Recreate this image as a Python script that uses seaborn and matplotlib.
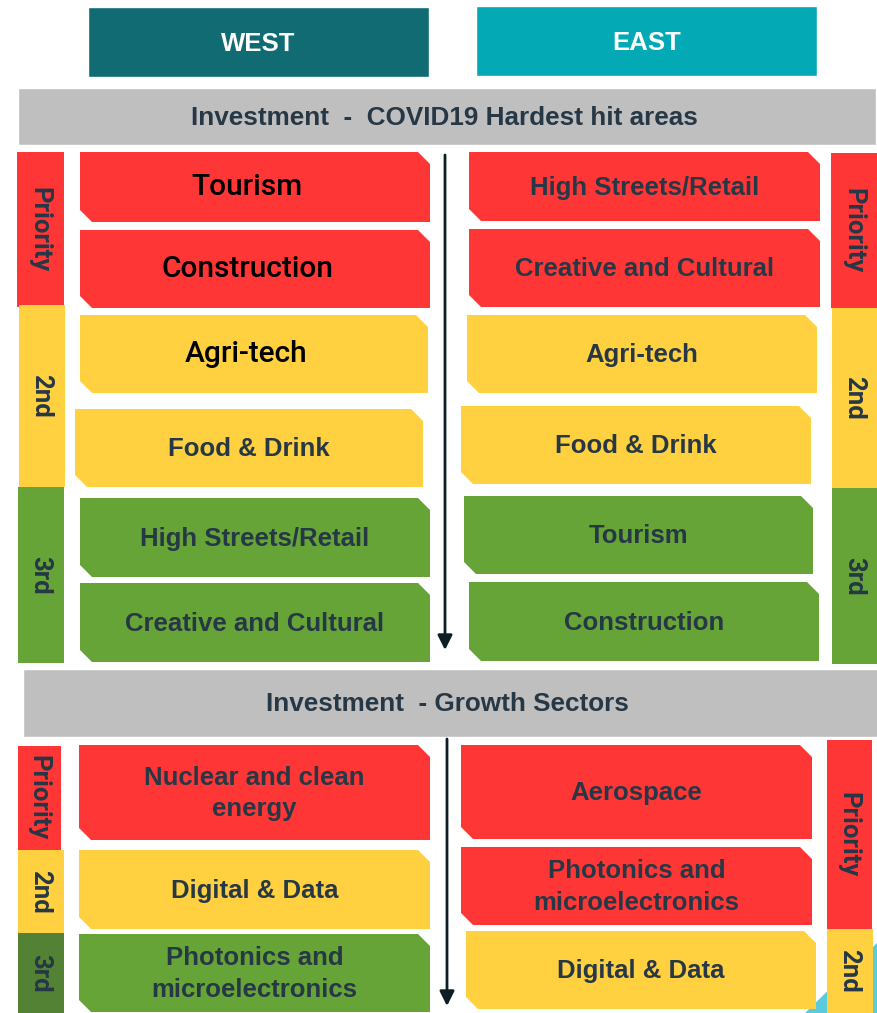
import matplotlib
matplotlib.use("Agg")
import matplotlib.pyplot as plt
from matplotlib.patches import Polygon, Rectangle
import seaborn as sns

# ---- data ----
regions = ["WEST", "EAST"]
section_titles = ["Investment  -  COVID19 Hardest hit areas", "Investment  - Growth Sectors"]

west_covid = ["Tourism", "Construction", "Agri-tech", "Food & Drink",
              "High Streets/Retail", "Creative and Cultural"]
west_covid_tier = ["Priority", "Priority", "2nd", "2nd", "3rd", "3rd"]
east_covid = ["High Streets/Retail", "Creative and Cultural", "Agri-tech", "Food & Drink",
              "Tourism", "Construction"]
east_covid_tier = ["Priority", "Priority", "2nd", "2nd", "3rd", "3rd"]

west_growth = ["Nuclear and clean\nenergy", "Digital & Data", "Photonics and\nmicroelectronics"]
west_growth_tier = ["Priority", "2nd", "3rd"]
east_growth = ["Aerospace", "Photonics and\nmicroelectronics", "Digital & Data"]
east_growth_tier = ["Priority", "Priority", "2nd"]

# ---- layout (pixels, y down) ----
W, H = 878, 1013
region_boxes = [(88, 7, 429, 77), (476, 6, 817, 76)]
band_boxes = [(18, 88, 876, 145), (23, 669, 878, 737)]

west_covid_boxes = [(80, 152, 430, 222), (80, 230, 430, 308), (80, 315, 428, 393),
                    (75, 409, 423, 487), (80, 498, 430, 577), (80, 583, 430, 662)]
east_covid_boxes = [(469, 152, 820, 221), (469, 229, 820, 307), (467, 315, 817, 393),
                    (461, 406, 811, 484), (464, 496, 813, 574), (469, 582, 819, 661)]
west_growth_boxes = [(79, 745, 430, 840), (79, 850, 430, 929), (79, 934, 430, 1012)]
east_growth_boxes = [(461, 745, 812, 839), (461, 847, 812, 925), (466, 931, 816, 1009)]

# side tier bars: (tier, x0, y0, x1, y1)
side_bars = [
    ("Priority", 17, 152, 64, 307), ("2nd", 19, 305, 65, 487), ("3rd", 18, 487, 64, 663),
    ("Priority", 831, 153, 877, 308), ("2nd", 832, 308, 878, 488), ("3rd", 832, 488, 878, 664),
    ("Priority", 18, 746, 61, 850), ("2nd", 18, 850, 64, 933), ("3rd*", 18, 933, 64, 1013),
    ("Priority", 827, 740, 872, 929), ("2nd", 827, 929, 873, 1013),
]
arrows = [(445, 155, 650), (447, 739, 1006)]

tier_colors = {"Priority": "#FF3636", "2nd": "#FFD03F", "3rd": "#67A437", "3rd*": "#548235"}
region_colors = ["#116B73", "#04A9B6"]
band_color = "#BFBFBF"
ink = "#263746"

sns.set_theme(style="white")
plt.rcParams["font.family"] = ["Liberation Sans", "DejaVu Sans"]

fig = plt.figure(figsize=(W / 100, H / 100), dpi=100)
ax = fig.add_axes([0, 0, 1, 1])
ax.set_xlim(0, W)
ax.set_ylim(H, 0)
ax.axis("off")


def snip_box(x0, y0, x1, y1, color, c=12):
    pts = [(x0, y0), (x1 - c, y0), (x1, y0 + c), (x1, y1), (x0 + c, y1), (x0, y1 - c)]
    ax.add_patch(Polygon(pts, closed=True, facecolor=color, edgecolor="none", zorder=2))


# background swoosh in the corner
ax.add_patch(Polygon([(805, H), (878, 942), (878, H)], closed=True,
                     facecolor="#5CCADD", edgecolor="none", zorder=0))

# region headers
for name, (x0, y0, x1, y1), col in zip(regions, region_boxes, region_colors):
    ax.add_patch(Rectangle((x0, y0), x1 - x0, y1 - y0, facecolor=col, zorder=1))
    ax.text((x0 + x1) / 2, (y0 + y1) / 2 + 2, name, color="white", fontsize=18.5,
            fontweight="bold", ha="center", va="center", zorder=3)

# section bands
for title, (x0, y0, x1, y1) in zip(section_titles, band_boxes):
    ax.add_patch(Rectangle((x0, y0), x1 - x0, y1 - y0, facecolor=band_color, zorder=1))
    ax.text((x0 + x1) / 2 - 3, (y0 + y1) / 2 + 1, title, color=ink, fontsize=18.8,
            fontweight="bold", ha="center", va="center", zorder=3)

# sector boxes
groups = [(west_covid, west_covid_tier, west_covid_boxes),
          (east_covid, east_covid_tier, east_covid_boxes),
          (west_growth, west_growth_tier, west_growth_boxes),
          (east_growth, east_growth_tier, east_growth_boxes)]
for gi, (labels, tiers, boxes) in enumerate(groups):
    for i, (lab, tier, (x0, y0, x1, y1)) in enumerate(zip(labels, tiers, boxes)):
        snip_box(x0, y0, x1, y1, tier_colors[tier])
        if gi == 0 and i < 3:
            # first three west boxes use a different, black typeface
            ax.text((x0 + x1) / 2 - 8, (y0 + y1) / 2, lab, color="black", fontsize=21.5,
                    fontweight="medium", family=["Roboto", "DejaVu Sans"],
                    ha="center", va="center", zorder=3)
        else:
            ax.text((x0 + x1) / 2, (y0 + y1) / 2 + 1, lab, color=ink, fontsize=18.5,
                    fontweight="bold", ha="center", va="center", linespacing=1.38, zorder=3)

# side tier labels
for tier, x0, y0, x1, y1 in side_bars:
    ax.add_patch(Rectangle((x0, y0), x1 - x0, y1 - y0, facecolor=tier_colors[tier],
                           edgecolor="none", zorder=2))
    ax.text((x0 + x1) / 2 - 1, (y0 + y1) / 2, tier.rstrip("*"), color=ink, fontsize=18.5,
            fontweight="bold", family=["Roboto", "DejaVu Sans"], rotation=270,
            ha="center", va="center", zorder=3)

# ranking arrows
for x, ys, ye in arrows:
    ax.annotate("", xy=(x, ye), xytext=(x, ys),
                arrowprops=dict(arrowstyle="-|>", color="#0E1E25", lw=2,
                                mutation_scale=22, shrinkA=0, shrinkB=0), zorder=4)

fig.savefig("out.png", dpi=100)
